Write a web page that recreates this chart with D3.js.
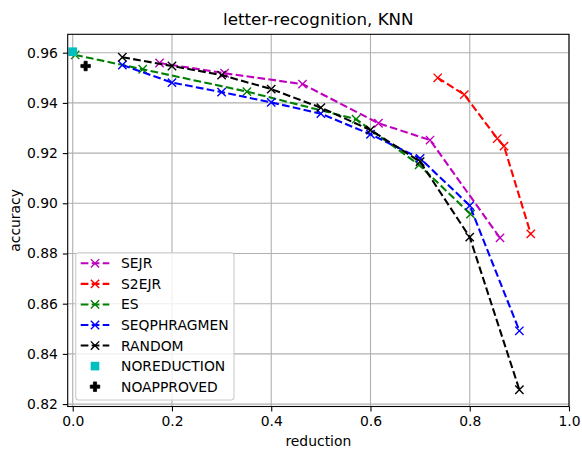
<!DOCTYPE html>
<html><head><meta charset="utf-8">
<script src="https://cdn.jsdelivr.net/npm/d3@7"></script>
<style>body{margin:0;background:#fff}svg{display:block}text{font-family:"DejaVu Sans",sans-serif}</style>
</head><body>
<svg id="c" width="582" height="453"></svg>
<script>
const sejrX = [0.175, 0.306, 0.463, 0.616, 0.720, 0.861];
const sejrY = [0.9559, 0.9518, 0.9475, 0.9319, 0.9252, 0.8862];
const s2ejrX = [0.7355, 0.789, 0.8555, 0.869, 0.923];
const s2ejrY = [0.9500, 0.9433, 0.9258, 0.9228, 0.8878];
const esX = [0.005, 0.141, 0.351, 0.571, 0.698, 0.8015];
const esY = [0.9591, 0.9534, 0.9445, 0.9335, 0.9153, 0.8957];
const seqX = [0.1, 0.2, 0.3, 0.4, 0.5, 0.6, 0.7, 0.8, 0.9];
const seqY = [0.9551, 0.9481, 0.9443, 0.9402, 0.9357, 0.9275, 0.9179, 0.8991, 0.8492];
const randX = [0.1, 0.2, 0.3, 0.4, 0.5, 0.6, 0.7, 0.8, 0.9];
const randY = [0.9582, 0.9547, 0.9511, 0.9455, 0.9381, 0.9292, 0.9166, 0.8865, 0.8257];
const noReduction = [0.0, 0.9604];
const noApproved = [0.026, 0.9547];
const xTicks = [0.0, 0.2, 0.4, 0.6, 0.8, 1.0];
const yTicks = [0.82, 0.84, 0.86, 0.88, 0.90, 0.92, 0.94, 0.96];

const series = [
  {name: "SEJR", xs: sejrX, ys: sejrY, color: "#bf00bf"},
  {name: "S2EJR", xs: s2ejrX, ys: s2ejrY, color: "#ff0000"},
  {name: "ES", xs: esX, ys: esY, color: "#008000"},
  {name: "SEQPHRAGMEN", xs: seqX, ys: seqY, color: "#0000ff"},
  {name: "RANDOM", xs: randX, ys: randY, color: "#000000"}
];

const L = 67.7, R = 569, T = 34.3, B = 406.5;
const x = d3.scaleLinear().domain([-0.0101, 1.0]).range([L, R]);
const y = d3.scaleLinear().domain([0.81904, 0.96733]).range([B, T]);
const svg = d3.select("#c");
const fs = 13.9;

// grid
const g = svg.append("g");
g.selectAll(".gx").data(xTicks).join("line")
  .attr("x1", d => x(d)).attr("x2", d => x(d)).attr("y1", T).attr("y2", B)
  .attr("stroke", "#b0b0b0").attr("stroke-width", 1.1);
g.selectAll(".gy").data(yTicks).join("line")
  .attr("y1", d => y(d)).attr("y2", d => y(d)).attr("x1", L).attr("x2", R)
  .attr("stroke", "#b0b0b0").attr("stroke-width", 1.1);

// axes
const xAxis = d3.axisBottom(x).tickValues(xTicks).tickFormat(d3.format(".1f")).tickSize(4.9).tickPadding(4.9);
const yAxis = d3.axisLeft(y).tickValues(yTicks).tickFormat(d3.format(".2f")).tickSize(4.9).tickPadding(4.9);
const ax = svg.append("g").attr("transform", `translate(0,${B})`).call(xAxis);
const ay = svg.append("g").attr("transform", `translate(${L},0)`).call(yAxis);
[ax, ay].forEach(a => {
  a.select(".domain").remove();
  a.selectAll("line").attr("stroke", "#000").attr("stroke-width", 1.1);
  a.selectAll("text").attr("font-size", fs).attr("fill", "#000").attr("font-family", "DejaVu Sans");
});

// lines
const line = d3.line().x(d => x(d[0])).y(d => y(d[1]));
const xPath = s => `M${-s},${-s}L${s},${s}M${-s},${s}L${s},${-s}`;
series.forEach(s => {
  const pts = s.xs.map((v, i) => [v, s.ys[i]]);
  svg.append("path").attr("d", line(pts)).attr("fill", "none")
    .attr("stroke", s.color).attr("stroke-width", 2.08).attr("stroke-dasharray", "7.7,3.3");
  svg.selectAll(null).data(pts).join("path")
    .attr("transform", d => `translate(${x(d[0])},${y(d[1])})`)
    .attr("d", xPath(4.17)).attr("stroke", s.color).attr("stroke-width", 1.39).attr("fill", "none");
});
const sq = 8.6;
svg.append("rect").attr("x", x(noReduction[0]) - sq / 2).attr("y", y(noReduction[1]) - sq / 2)
  .attr("width", sq).attr("height", sq).attr("fill", "#00bfbf");
const plusPath = (s) => {
  const a = s / 2, b = s / 6;
  return `M${-b},${-a}H${b}V${-b}H${a}V${b}H${b}V${a}H${-b}V${b}H${-a}V${-b}H${-b}Z`;
};
svg.append("path").attr("transform", `translate(${x(noApproved[0])},${y(noApproved[1])})`)
  .attr("d", plusPath(9.5)).attr("fill", "#000").attr("stroke", "#000").attr("stroke-width", 0.8);

// spines
svg.append("rect").attr("x", L).attr("y", T).attr("width", R - L).attr("height", B - T)
  .attr("fill", "none").attr("stroke", "#000").attr("stroke-width", 1.1);

// legend
const lg = svg.append("g");
lg.append("rect").attr("x", 75.7).attr("y", 252.7).attr("width", 158.3).attr("height", 147.3)
  .attr("rx", 3).attr("fill", "#fff").attr("fill-opacity", 0.8).attr("stroke", "#cccccc").attr("stroke-width", 1.1);
const entries = series.map(s => ({name: s.name, color: s.color, type: "line"}))
  .concat([{name: "NOREDUCTION", color: "#00bfbf", type: "sq"}, {name: "NOAPPROVED", color: "#000", type: "plus"}]);
entries.forEach((e, i) => {
  const cy = 263.3 + i * 20.56;
  if (e.type === "line") {
    lg.append("line").attr("x1", 80.7).attr("x2", 109.3).attr("y1", cy).attr("y2", cy)
      .attr("stroke", e.color).attr("stroke-width", 2.08).attr("stroke-dasharray", "7.7,3.3");
    lg.append("path").attr("transform", `translate(95,${cy})`).attr("d", xPath(4.17))
      .attr("stroke", e.color).attr("stroke-width", 1.39);
  } else if (e.type === "sq") {
    lg.append("rect").attr("x", 95 - sq / 2).attr("y", cy - sq / 2).attr("width", sq).attr("height", sq).attr("fill", e.color);
  } else {
    lg.append("path").attr("transform", `translate(95,${cy})`).attr("d", plusPath(9.5))
      .attr("fill", "#000").attr("stroke", "#000").attr("stroke-width", 0.8);
  }
  lg.append("text").attr("x", 121).attr("y", cy).attr("dy", "0.36em").attr("font-size", fs).text(e.name);
});

// labels
svg.append("text").attr("x", (L + R) / 2).attr("y", 25).attr("text-anchor", "middle").attr("font-size", 16.7).text("letter-recognition, KNN");
svg.append("text").attr("x", (L + R) / 2).attr("y", 446).attr("text-anchor", "middle").attr("font-size", fs).text("reduction");
svg.append("text").attr("transform", `translate(20,${(T + B) / 2}) rotate(-90)`).attr("text-anchor", "middle").attr("font-size", fs).text("accuracy");
</script>
</body></html>
